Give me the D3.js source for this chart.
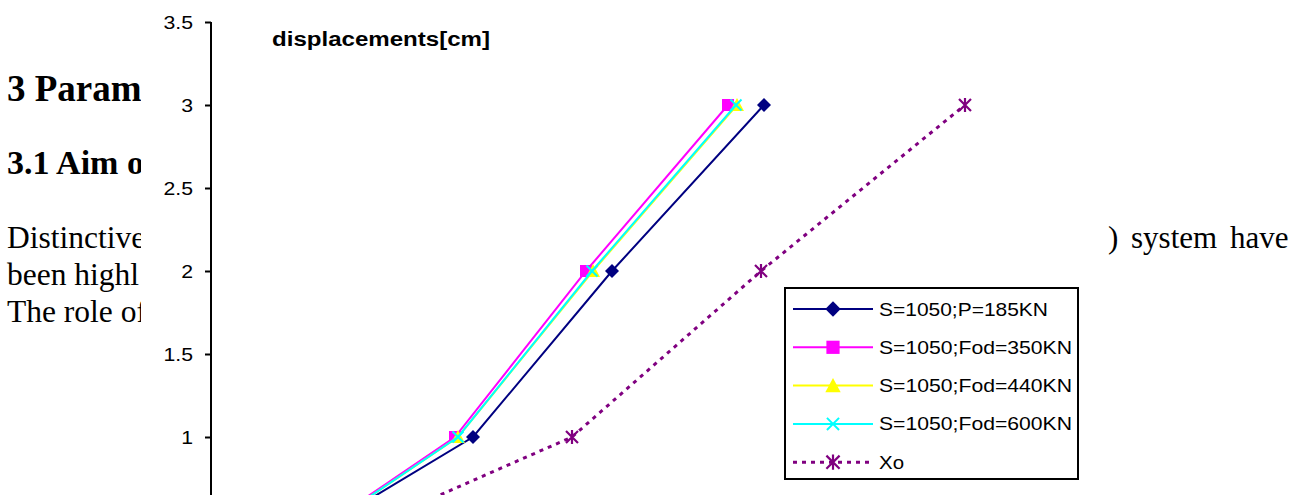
<!DOCTYPE html>
<html>
<head>
<meta charset="utf-8">
<script src="https://cdn.jsdelivr.net/npm/d3@7"></script>
<style>
  html, body { margin: 0; padding: 0; background: #fff; }
  svg { display: block; }
</style>
</head>
<body>
<svg id="chart" width="1307" height="495"></svg>
<script>
// ---- data ----
const displacementLevels = [0.5, 1, 2, 3];          // y values (cm)
const seriesNames = ["S=1050;P=185KN", "S=1050;Fod=350KN", "S=1050;Fod=440KN", "S=1050;Fod=600KN", "Xo"];
const xNavy    = [6.2, 13.1, 20.05, 27.65];
const xMagenta = [6.1, 12.2, 18.75, 25.85];
const xYellow  = [6.2, 12.35, 19.1, 26.3];
const xCyan    = [6.2, 12.35, 19.05, 26.25];
const xXo      = [8.6, 18.05, 27.5, 37.7];
const yTicks   = [1, 1.5, 2, 2.5, 3, 3.5];
const yTitle   = "displacements[cm]";

const svg = d3.select("#chart");
const serif = "'Liberation Serif', 'Times New Roman', serif";
const sans = "'Liberation Sans', Arial, sans-serif";

// ---- background document text (visible fragments, clipped by the chart) ----
svg.append("defs").append("clipPath").attr("id", "docclip")
  .append("rect").attr("x", 0).attr("y", 0).attr("width", 141).attr("height", 495);
const doc = svg.append("g").attr("fill", "#000").attr("clip-path", "url(#docclip)").style("font-family", serif);
doc.append("text").attr("x", 7).attr("y", 101).style("font-size", "37px").style("font-weight", "bold").text("3 Param");
doc.append("text").attr("x", 7).attr("y", 174).style("font-size", "34px").style("font-weight", "bold").text("3.1 Aim of");
doc.append("text").attr("x", 7).attr("y", 248).style("font-size", "31.5px").text("Distinctive");
doc.append("text").attr("x", 7).attr("y", 285).style("font-size", "31.5px").text("been highl");
doc.append("text").attr("x", 7).attr("y", 322).style("font-size", "31.5px").text("The role of");

const docR = svg.append("g").attr("fill", "#000").style("font-family", serif).style("font-size", "31px");
docR.append("text").attr("x", 1108).attr("y", 248).text(")");
docR.append("text").attr("x", 1131).attr("y", 248).text("system");
docR.append("text").attr("x", 1230).attr("y", 248).text("have");

// ---- scales ----
const x = d3.scaleLinear().domain([0, 40]).range([211, 1011]);
const y = d3.scaleLinear().domain([1, 3.5]).range([437, 22]);

function stretch(sel, f) {
  sel.each(function () {
    const w = this.getComputedTextLength();
    d3.select(this).attr("textLength", w * f).attr("lengthAdjust", "spacingAndGlyphs");
  });
}

// ---- y axis ----
const yAxis = svg.append("g")
  .attr("transform", "translate(211,0)")
  .call(d3.axisLeft(y).tickValues(yTicks).tickFormat(d3.format("")).tickSize(6).tickPadding(12));
yAxis.attr("font-size", null).attr("font-family", null);
yAxis.select(".domain").attr("d", "M0," + y(3.5) + "V495").attr("stroke", "#000").attr("stroke-width", 2);
yAxis.selectAll(".tick line").attr("stroke", "#000").attr("stroke-width", 2);
yAxis.selectAll(".tick text").attr("font-family", sans).attr("font-size", 18).attr("fill", "#000").attr("dy", "0.36em");
stretch(yAxis.selectAll(".tick text"), 1.18);

// y title
const t = svg.append("text").attr("x", 272).attr("y", 46)
  .attr("font-family", sans).attr("font-size", 19.5).attr("font-weight", "bold").attr("fill", "#000").text(yTitle);
t.attr("textLength", 218).attr("lengthAdjust", "spacingAndGlyphs");

// ---- markers ----
function marker(g, type, cx, cy, s) {
  s = s || 1;
  if (type === "diamond") {
    const r = 7 * s;
    g.append("path").attr("d", `M${cx},${cy - r}L${cx + r},${cy}L${cx},${cy + r}L${cx - r},${cy}Z`).attr("fill", "#000080");
  } else if (type === "square") {
    const r = 6 * s;
    g.append("rect").attr("x", cx - r).attr("y", cy - r).attr("width", 2 * r).attr("height", 2 * r).attr("fill", "#FF00FF");
  } else if (type === "triangle") {
    const r = 7 * s;
    g.append("path").attr("d", `M${cx},${cy - r}L${cx + r},${cy + r * 0.85}L${cx - r},${cy + r * 0.85}Z`).attr("fill", "#FFFF00");
  } else if (type === "x") {
    const r = 5.5 * s;
    g.append("path").attr("d", `M${cx - r},${cy - r}L${cx + r},${cy + r}M${cx - r},${cy + r}L${cx + r},${cy - r}`)
      .attr("stroke", "#00FFFF").attr("stroke-width", 2).attr("fill", "none");
  } else if (type === "star") {
    const r = 6 * s;
    g.append("path").attr("d", `M${cx - r},${cy - r}L${cx + r},${cy + r}M${cx - r},${cy + r}L${cx + r},${cy - r}M${cx},${cy - r - 1}L${cx},${cy + r + 1}`)
      .attr("stroke", "#800080").attr("stroke-width", 2.2).attr("fill", "none");
  }
}

const series = [
  { name: seriesNames[0], xs: xNavy, color: "#000080", mk: "diamond", dash: null },
  { name: seriesNames[1], xs: xMagenta, color: "#FF00FF", mk: "square", dash: null },
  { name: seriesNames[2], xs: xYellow, color: "#FFFF00", mk: "triangle", dash: null },
  { name: seriesNames[3], xs: xCyan, color: "#00FFFF", mk: "x", dash: null },
  { name: seriesNames[4], xs: xXo, color: "#800080", mk: "star", dash: "4,5" }
];

const line = d3.line().x(d => x(d[0])).y(d => y(d[1]));
const plot = svg.append("g");
series.forEach(s => {
  const pts = s.xs.map((v, i) => [v, displacementLevels[i]]);
  plot.append("path").datum(pts).attr("d", line).attr("fill", "none")
    .attr("stroke", s.color).attr("stroke-width", s.dash ? 3 : 2)
    .attr("stroke-dasharray", s.dash);
  const mg = plot.append("g");
  pts.forEach(p => marker(mg, s.mk, x(p[0]), y(p[1])));
});

// ---- legend ----
const lg = svg.append("g");
lg.append("rect").attr("x", 785).attr("y", 288).attr("width", 293).attr("height", 191)
  .attr("fill", "#fff").attr("stroke", "#000").attr("stroke-width", 2);
const legendWidths = [169, 193, 193, 193, 25];
series.forEach((s, i) => {
  const cy = 309 + i * 38.3;
  lg.append("line").attr("x1", 793).attr("x2", 873).attr("y1", cy).attr("y2", cy)
    .attr("stroke", s.color).attr("stroke-width", s.dash ? 3 : 2).attr("stroke-dasharray", s.dash);
  marker(lg, s.mk, 833, cy, 1.1);
  const tx = lg.append("text").attr("x", 879).attr("y", cy + 6.5)
    .attr("font-family", sans).attr("font-size", 18.5).attr("fill", "#000").text(s.name);
  tx.attr("textLength", legendWidths[i]).attr("lengthAdjust", "spacingAndGlyphs");
});
</script>
</body>
</html>
